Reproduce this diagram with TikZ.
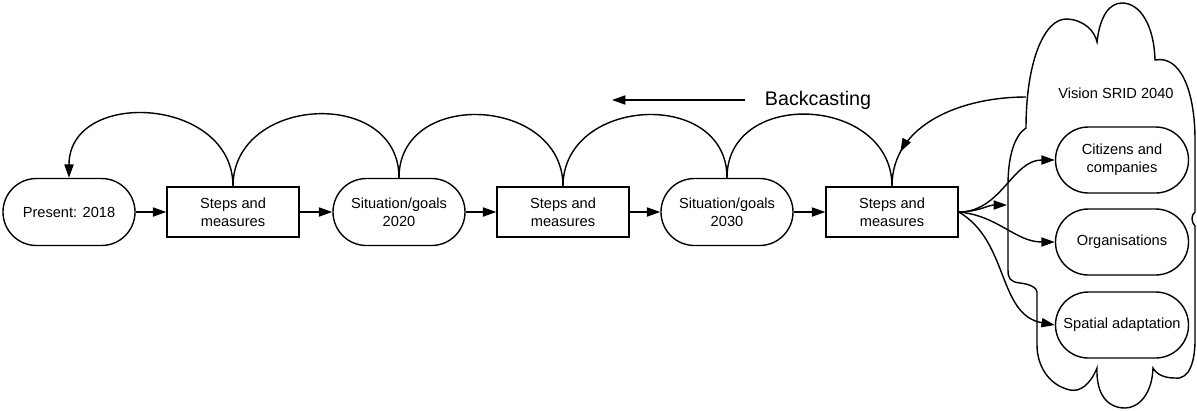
\documentclass[tikz,border=0pt]{standalone}
\usepackage{fontspec}
\setmainfont{Liberation Sans}
\usetikzlibrary{arrows.meta,shapes.misc,decorations.markings}

\begin{document}
\begin{tikzpicture}[x=0.025cm,y=-0.025cm,
  line width=1pt,
  >={Triangle[length=9.5pt,width=6.5pt]},
  lbl/.style={font=\fontsize{10.4}{12.8}\selectfont, align=center, inner sep=0pt},
  stadium/.style={lbl, draw, rounded rectangle, minimum width=3.3cm, minimum height=1.675cm},
  stepbox/.style={lbl, draw, rectangle, minimum width=3.3cm, minimum height=1.25cm},
  goal/.style={lbl, draw, rounded rectangle, minimum width=3.325cm, minimum height=1.65cm},
  flow/.style={->},
  midarrow/.style={decoration={markings, mark=at position #1 with {\arrow{>}}}, postaction={decorate}},
]
\useasboundingbox (0,0) rectangle (1197,410);

% the vision cloud
\draw (1026,128)
  .. controls (1026,60) and (1045,18) .. (1067,19)
  .. controls (1085,20) and (1095,32) .. (1097,42)
  .. controls (1100,15) and (1110,3) .. (1122,3)
  .. controls (1140,3) and (1154,25) .. (1155,60)
  .. controls (1180,55) and (1195,90) .. (1195,140)
  -- (1195,212)
  .. controls (1191,215) and (1191,222) .. (1195,226)
  -- (1195,340)
  .. controls (1195,360) and (1190,380) .. (1175,378)
  .. controls (1165,378) and (1157,375) .. (1153,368)
  .. controls (1152,395) and (1138,408) .. (1125,408)
  .. controls (1108,408) and (1096,395) .. (1097,368)
  .. controls (1090,385) and (1080,392) .. (1070,390)
  .. controls (1048,385) and (1037,365) .. (1037,345)
  -- (1037,292)
  .. controls (1037,288) and (1030,284) .. (1020,283)
  .. controls (1010,282) and (1008,278) .. (1008,270)
  -- (1008,185)
  .. controls (1008,155) and (1015,135) .. (1026,128)
  -- cycle;
\coordinate (cloudL) at (1026,97);
\coordinate (cloudE) at (1007,205);

\node[lbl] (vis) at (1116,93) {Vision SRID 2040};
\node[goal] (c1) at (1122,160) {Citizens and\\companies};
\node[goal] (c2) at (1122,242) {Organisations};
\node[goal] (c3) at (1122,325) {Spatial adaptation};

% the time line
\node[stadium] (p)  at (69,212)  {Present: 2018};
\node[stepbox] (s1) at (233,212) {Steps and\\measures};
\node[stadium] (g1) at (399,212) {Situation/goals\\2020};
\node[stepbox] (s2) at (563,212) {Steps and\\measures};
\node[stadium] (g2) at (727,212) {Situation/goals\\2030};
\node[stepbox] (s3) at (892,212) {Steps and\\measures};

\draw[flow] (p.east) -- (s1.west);
\draw[flow] (s1.east) -- (g1.west);
\draw[flow] (g1.east) -- (s2.west);
\draw[flow] (s2.east) -- (g2.west);
\draw[flow] (g2.east) -- (s3.west);

% backcasting arcs
\draw[flow] (s1.north) to[out=90,in=90,looseness=1.4] (p.north);
\draw (s1.north) to[out=90,in=90,looseness=1.4] (g1.north);
\draw (g1.north) to[out=90,in=90,looseness=1.4] (s2.north);
\draw (s2.north) to[out=90,in=90,looseness=1.4] (g2.north);
\draw (g2.north) to[out=90,in=90,looseness=1.4] (s3.north);
\draw[midarrow=0.8] (cloudL) to[out=180,in=90] (s3.north);

% fan into the vision
\draw[flow] (s3.east) to[out=0,in=180] (c1.west);
\draw[flow] (s3.east) to[out=0,in=180] (cloudE);
\draw[flow] (s3.east) to[out=-5,in=180] (c2.west);
\draw[flow] (s3.east) to[out=-30,in=170] (c3.west);

% direction label
\coordinate (bcS) at (745,100);
\coordinate (bcE) at (612,100);
\draw[flow] (bcS) -- (bcE);
\node[font=\fontsize{14}{16}\selectfont, inner sep=0pt] (bc) at (818,100) {Backcasting};
\end{tikzpicture}
\end{document}
